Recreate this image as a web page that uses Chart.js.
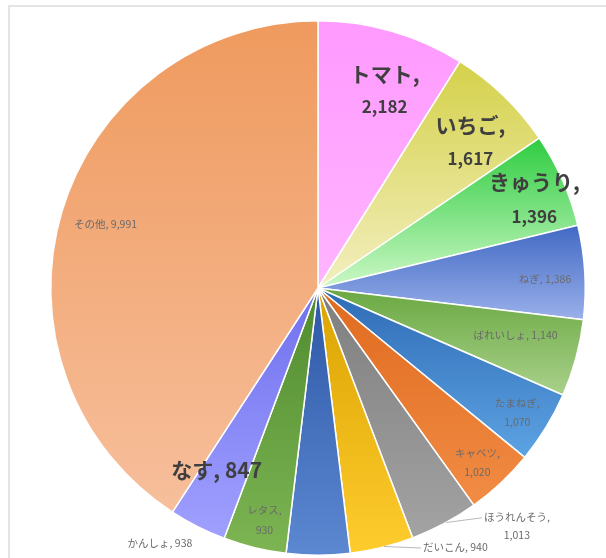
<!DOCTYPE html>
<html>
<head>
<meta charset="utf-8">
<script src="https://cdn.jsdelivr.net/npm/chart.js@4.4.0/dist/chart.umd.min.js"></script>
<style>
  html, body { margin: 0; padding: 0; background: #fff; overflow: hidden; }
  #frame { position: absolute; left: 8px; top: 5px; width: 700px; height: 700px; border: 2px solid #e4e4e4; }
  #pie { position: absolute; left: 0; top: 0; }
</style>
</head>
<body>
<div id="frame"></div>
<canvas id="pie" width="606" height="558"></canvas>
<script>
// Data (clockwise from 12 o'clock)
const labels = ['トマト', 'いちご', 'きゅうり', 'ねぎ', 'ばれいしょ', 'たまねぎ', 'キャベツ', 'ほうれんそう', 'だいこん', 'かんしょ', 'レタス', 'なす', 'その他'];
const values = [2182, 1617, 1396, 1386, 1140, 1070, 1020, 1013, 940, 938, 930, 847, 9991];

// Excel-like gradient fills: darker at the top of each slice, lighter at the bottom
const topColors = ['#ff99ff', '#d4d14a', '#2ecc40', '#4169c4', '#6aa842', '#2e6bb5', '#df6a1e', '#7e7e7e', '#d9a300', '#2d57a5', '#4f8b2f', '#7070ee', '#ef9a5e'];
const bottomColors = ['#ffb5ff', '#f3efc0', '#ccf8c6', '#9ab0ea', '#a9d18b', '#5da3e3', '#f28c45', '#a3a3a3', '#ffcc2e', '#5c88d2', '#7db553', '#a0a0ff', '#f7bf9c'];

// Label placement: r = fraction of radius, da = angle tweak (deg), split = two lines
const labelStyle = [
    { big: true, split: true, r: 0.78, da: 2.6, gap: 32 },
    { big: true, split: true, r: 0.79, da: 2.2, gap: 33 },
    { big: true, split: true, r: 0.875, da: 1.5, gap: 35 },
    { r: 0.85, da: 1.1 },
    { r: 0.76, da: -1.8 },
    { split: true, r: 0.88, da: 0.6, gap: 19 },
    { split: true, r: 0.885, da: 0.8, gap: 19 },
    { split: true, r: 1.16, da: -11.7, gap: 18, leader: true },
    { r: 1.097, da: -14.1, leader: true },
    { r: 1.123, da: 31.8 },
    { split: true, r: 0.89, da: -0.7, gap: 20 },
    { big: true, r: 0.78, da: 2.3 },
    { r: 0.83, da: 0.2 }
];

const FONT = '"Noto Sans CJK JP", "Noto Sans", sans-serif';
const total = values.reduce((a, b) => a + b, 0);

function sliceFill(ctx) {
    const i = ctx.dataIndex;
    const chart = ctx.chart;
    const area = chart.chartArea;
    if (ctx.type !== 'data' || !area) return topColors[i] || '#ccc';
    const cx = (area.left + area.right) / 2;
    const cy = (area.top + area.bottom) / 2;
    const r = Math.min(area.width, area.height) / 2;
    let acc = 0;
    for (let k = 0; k < i; k++) acc += values[k];
    const a0 = -Math.PI / 2 + acc / total * Math.PI * 2;
    const a1 = a0 + values[i] / total * Math.PI * 2;
    let yMin = cy, yMax = cy;
    for (let s = 0; s <= 40; s++) {
        const yy = cy + Math.sin(a0 + (a1 - a0) * s / 40) * r;
        yMin = Math.min(yMin, yy);
        yMax = Math.max(yMax, yy);
    }
    const g = chart.ctx.createLinearGradient(0, yMin, 0, yMax);
    g.addColorStop(0, topColors[i]);
    g.addColorStop(1, bottomColors[i]);
    return g;
}

const fmt = v => v.toLocaleString('en-US');

const sliceLabels = {
    id: 'sliceLabels',
    afterDatasetsDraw(chart) {
        const c = chart.ctx;
        const arcs = chart.getDatasetMeta(0).data;
        c.save();
        c.textAlign = 'center';
        c.textBaseline = 'middle';
        arcs.forEach((arc, i) => {
            const s = labelStyle[i];
            const { x, y, startAngle, endAngle, outerRadius } = arc.getProps(['x', 'y', 'startAngle', 'endAngle', 'outerRadius'], true);
            const midTrue = (startAngle + endAngle) / 2;
            const mid = midTrue + s.da * Math.PI / 180;
            const px = x + Math.cos(mid) * outerRadius * s.r;
            const py = y + Math.sin(mid) * outerRadius * s.r;

            let lines;
            if (s.split) lines = [labels[i] + ',', fmt(values[i])];
            else lines = [labels[i] + ', ' + fmt(values[i])];

            const fonts = s.big
                ? (s.split ? ['bold 21px ' + FONT, 'bold 17px ' + FONT] : ['bold 21px ' + FONT])
                : lines.map(() => '10.5px ' + FONT);
            c.fillStyle = s.big ? '#3f3f3f' : '#6a6a6a';

            const gap = s.gap || 0;
            const y0 = py - gap * (lines.length - 1) / 2;

            if (s.leader) {
                c.font = fonts[0];
                const w = c.measureText(lines[0]).width;
                const ex = x + Math.cos(midTrue) * outerRadius;
                const ey = y + Math.sin(midTrue) * outerRadius;
                c.strokeStyle = '#a6a6a6';
                c.lineWidth = 0.8;
                c.beginPath();
                c.moveTo(ex + 2, ey - 1);
                c.lineTo(px - w / 2 - 2, y0 + 1);
                c.stroke();
            }

            lines.forEach((t, k) => {
                c.font = fonts[k];
                c.fillText(t, px, y0 + gap * k);
            });
        });
        c.restore();
    }
};

new Chart(document.getElementById('pie'), {
    type: 'pie',
    data: {
        labels: labels,
        datasets: [{
            data: values,
            backgroundColor: sliceFill,
            borderColor: '#ffffff',
            borderWidth: 1.5
        }]
    },
    options: {
        responsive: false,
        animation: false,
        layout: { padding: { left: 50, right: 20, top: 20, bottom: 2 } },
        plugins: {
            legend: { display: false },
            tooltip: { enabled: false }
        }
    },
    plugins: [sliceLabels]
});
</script>
</body>
</html>
